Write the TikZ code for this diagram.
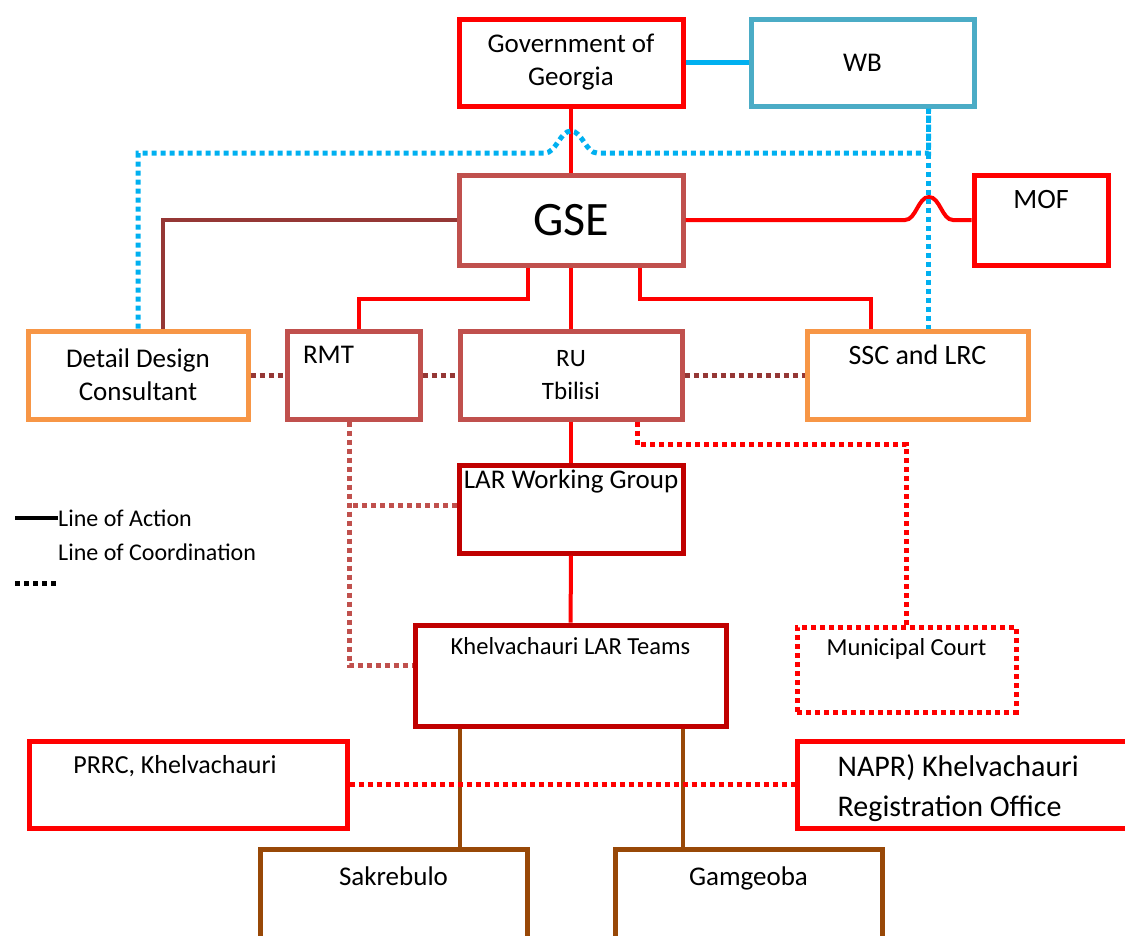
\documentclass[tikz,border=0pt]{standalone}
\usepackage{fontspec}
\setmainfont{Carlito}
\usepackage{xcolor}
\usepackage{tikz}
\usetikzlibrary{positioning}

\definecolor{ggred}{HTML}{FF0000}
\definecolor{wbblue}{HTML}{4BACC6}
\definecolor{linkblue}{HTML}{00B0F0}
\definecolor{gsered}{HTML}{C0504D}
\definecolor{consorange}{HTML}{F79646}
\definecolor{darkbrown}{HTML}{953735}
\definecolor{larred}{HTML}{C00000}
\definecolor{localbrown}{HTML}{984807}

\newcommand{\txtsize}[2]{\fontsize{#1}{#2}\selectfont}

\begin{document}
\begin{tikzpicture}[x=1pt, y=-1pt]
    % Styles
    \tikzstyle{box} = [rectangle, draw, line width=5pt, fill=white, inner sep=0pt, align=center, font=\txtsize{27}{33}]
    \tikzstyle{toplbl} = [anchor=north, inner sep=0pt, align=center, font=\txtsize{27}{33}]
    \tikzstyle{action} = [draw, line width=4pt]
    \tikzstyle{coord} = [draw, line width=5pt, dash pattern=on 5pt off 4pt]

    \clip (0,0) rectangle (1125,935);

    % --- TOP: GOVERNMENT, WB, GSE, MOF ---
    \node [box, draw=ggred, minimum width=224pt, minimum height=87pt] (gov) at (571,62.5) {Government of\\Georgia};
    \node [box, draw=wbblue, minimum width=223pt, minimum height=87pt] (wb) at (862.5,62.5) {WB};
    \node [box, draw=gsered, minimum width=224pt, minimum height=90pt, font=\txtsize{48}{56}] (gse) at (571,220) {GSE};
    \node [box, draw=ggred, minimum width=134pt, minimum height=90pt,
           label={[toplbl, font=\txtsize{28}{34}, yshift=-18pt]north:MOF}] (mof) at (1041,220) {};

    % --- SECOND ROW ---
    \node [box, draw=consorange, minimum width=220pt, minimum height=88pt] (ddc) at (138,375) {Detail Design\\Consultant};
    \node [box, draw=gsered, minimum width=133pt, minimum height=88pt,
           label={[toplbl, xshift=-25pt, yshift=-17pt]north:RMT}] (rmt) at (353.5,375) {};
    \node [box, draw=gsered, minimum width=222pt, minimum height=88pt, font=\txtsize{25}{33}] (ru) at (571,375) {RU\\Tbilisi};
    \node [box, draw=consorange, minimum width=221pt, minimum height=88pt,
           label={[toplbl, font=\txtsize{28}{34}, yshift=-16pt]north:SSC and LRC}] (ssc) at (917.5,375) {};

    % --- LAR LEVEL ---
    \node [box, draw=larred, minimum width=224pt, minimum height=88pt,
           label={[toplbl, yshift=-7pt]north:LAR Working Group}] (larwg) at (571,509) {};
    \node [box, draw=larred, minimum width=311pt, minimum height=101pt,
           label={[toplbl, font=\txtsize{24.5}{30}, yshift=-15pt]north:Khelvachauri LAR Teams}] (teams) at (570.5,675.5) {};
    \node [box, draw=ggred, dash pattern=on 5pt off 4pt, minimum width=219pt, minimum height=85pt,
           label={[toplbl, font=\txtsize{24.5}{30}, yshift=-14pt]north:Municipal Court}] (court) at (906.5,669.5) {};

    % --- LOCAL LEVEL ---
    \node [box, draw=ggred, minimum width=318pt, minimum height=87pt,
           label={[toplbl, font=\txtsize{26}{32}, xshift=-13pt, yshift=-17pt]north:{PRRC, Khelvachauri}}] (prrc) at (188,784.5) {};
    \node [box, draw=ggred, minimum width=340pt, minimum height=87pt,
           label={[toplbl, anchor=north west, align=left, font=\txtsize{30}{40}, xshift=43pt, yshift=-16pt]north west:NAPR) Khelvachauri\\Registration Office}] (napr) at (967,784.5) {};
    \node [box, draw=localbrown, minimum width=267pt, minimum height=149pt,
           label={[toplbl, yshift=-20pt]north:Sakrebulo}] (sak) at (393.5,923.5) {};
    \node [box, draw=localbrown, minimum width=267pt, minimum height=149pt,
           label={[toplbl, yshift=-20pt]north:Gamgeoba}] (gam) at (748.5,923.5) {};

    % --- LINES OF ACTION ---
    \path [action, linkblue, line width=5pt] (gov) -- (wb);
    \path [action, ggred] (gov) -- (gse);
    \path [action, ggred] (gse.east) -- (905,220) .. controls (916,220) and (918,197) .. (929,197)
          .. controls (940,197) and (942,220) .. (953,220) -- (mof.west);
    \path [action, darkbrown] (gse.west) -| ([xshift=25pt]ddc.north);
    \path [action, ggred] ([xshift=-43pt]gse.south) -- ++(0,31) -| ([xshift=5pt]rmt.north);
    \path [action, ggred] (gse) -- (ru);
    \path [action, ggred] ([xshift=69pt]gse.south) -- ++(0,31) -| ([xshift=-47pt]ssc.north);
    \path [action, ggred] (ru) -- (larwg);
    \path [action, ggred] (larwg) -- (teams);
    \path [action, localbrown] ([xshift=-111pt]teams.south) -- ([xshift=-111pt]teams.south |- sak.north);
    \path [action, localbrown] ([xshift=112pt]teams.south) -- ([xshift=112pt]teams.south |- gam.north);

    % --- LINES OF COORDINATION ---
    \path [coord, linkblue] (ddc.north) |- (545,153) .. controls (556,153) and (560,131) .. (571,131)
          .. controls (582,131) and (586,153) .. (597,153) -| ([xshift=66pt]wb.south);
    \path [coord, linkblue] ([xshift=66pt]wb.south) -- ([xshift=11pt]ssc.north);
    \path [coord, darkbrown] (ddc) -- (rmt);
    \path [coord, darkbrown] (rmt) -- (ru);
    \path [coord, darkbrown] (ru) -- (ssc);
    \coordinate (rmtdrop) at ([xshift=-4pt]rmt.south);
    \path [coord, gsered] (rmtdrop) |- ([yshift=10pt]teams.west);
    \path [coord, gsered] ([yshift=4pt]larwg.west) -- ([yshift=4pt]larwg.west -| rmtdrop);
    \path [coord, ggred] ([xshift=66pt]ru.south) -- ++(0,23) -| (court.north);
    \path [coord, ggred] (prrc) -- (napr);

    % --- LEGEND ---
    \node [anchor=west, inner sep=0pt, font=\txtsize{24}{28}] (actkey) at (58,518) {Line of Action};
    \node [anchor=west, inner sep=0pt, font=\txtsize{24}{28}] (coordkey) at (58,552) {Line of Coordination};
    \coordinate (actstart) at (15,518);
    \coordinate (coordstart) at (15,583);
    \coordinate (coordend) at (57,583);
    \path [action, black] (actstart) -- (actkey.west);
    \path [coord, black] (coordstart) -- (coordend);

\end{tikzpicture}
\end{document}
